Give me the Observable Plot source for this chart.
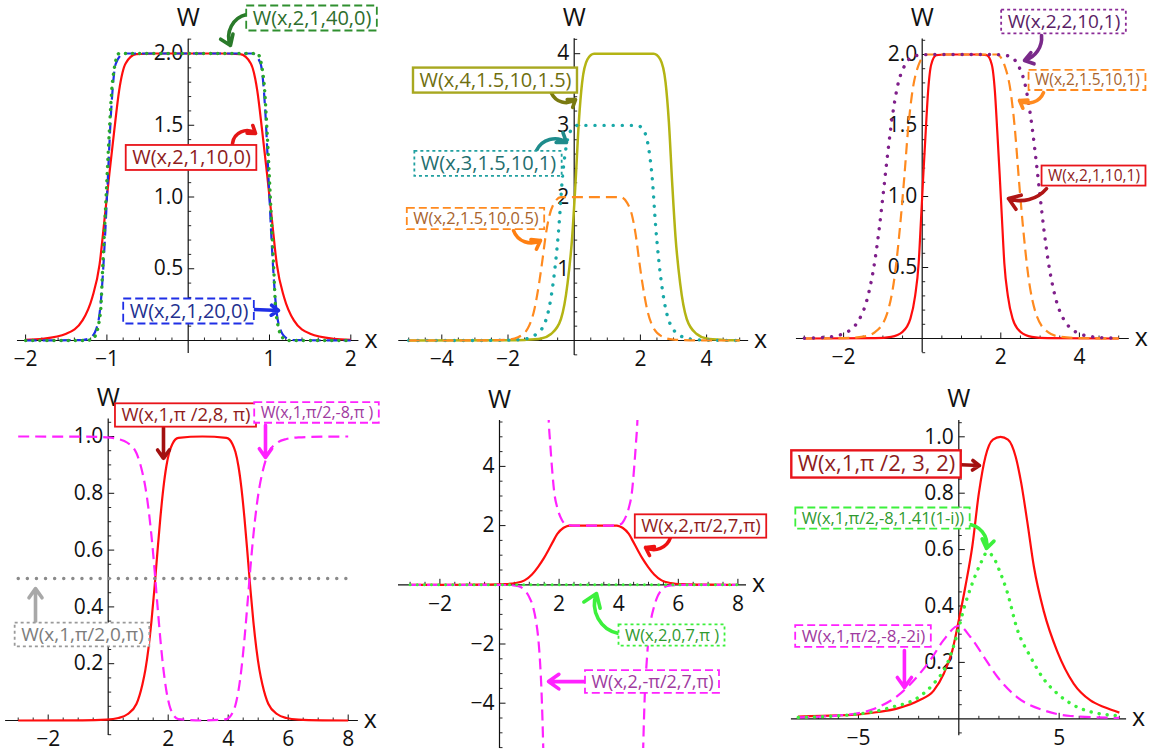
<!DOCTYPE html>
<html><head><meta charset="utf-8">
<script src="https://cdn.jsdelivr.net/npm/d3@7"></script>
<script src="https://cdn.jsdelivr.net/npm/@observablehq/plot@0.6"></script>
<style>
body{margin:0;background:#fff;}
#root{position:relative;width:1150px;height:751px;overflow:hidden;background:#fff;}
#root svg{position:absolute;overflow:visible;background:transparent !important;max-width:none !important;}
</style></head><body><div id="root"></div>
<script>
// ================= DATA =================
// Panel 1
const p1RedX   = [-2, -1.79, -1.5, -1.3, -1.18, -1.09, -1.03, -0.97, -0.91, -0.85, -0.77, -0.64, -0.4, 0, 0.4, 0.64, 0.77, 0.85, 0.91, 0.97, 1.03, 1.09, 1.18, 1.3, 1.5, 1.79, 2];
const p1RedY   = [0.005, 0.012, 0.047, 0.14, 0.30, 0.53, 0.84, 1.16, 1.46, 1.74, 1.93, 1.995, 2, 2, 2, 1.995, 1.93, 1.74, 1.46, 1.16, 0.84, 0.53, 0.30, 0.14, 0.047, 0.012, 0.005];
const p1BlueX  = [-2, -1.3, -1.2, -1.11, -1.07, -1.03, -0.99, -0.95, -0.89, -0.79, -0.6, 0, 0.6, 0.79, 0.89, 0.95, 0.99, 1.03, 1.07, 1.11, 1.2, 1.3, 2];
const p1BlueY  = [0, 0.003, 0.02, 0.12, 0.30, 0.65, 1.11, 1.58, 1.93, 2.0, 2, 2, 2, 2.0, 1.93, 1.58, 1.11, 0.65, 0.30, 0.12, 0.02, 0.003, 0];
const p1GreenX = [-2, -1.25, -1.16, -1.08, -1.05, -1.01, -0.97, -0.93, -0.85, -0.6, 0, 0.6, 0.85, 0.93, 0.97, 1.01, 1.05, 1.08, 1.16, 1.25, 2];
const p1GreenY = [0, 0, 0.02, 0.19, 0.53, 1.0, 1.46, 1.81, 2.0, 2, 2, 2, 2.0, 1.81, 1.46, 1.0, 0.53, 0.19, 0.02, 0, 0];
// Panel 2
const p2OliveX  = [-5, -2, -1.5, -1, -0.7, -0.4, -0.2, -0.06, 0.04, 0.14, 0.24, 0.4, 0.6, 1.5, 2.4, 2.6, 2.76, 2.86, 2.96, 3.06, 3.2, 3.4, 3.7, 4, 4.5, 5];
const p2OliveY  = [0, 0.002, 0.008, 0.028, 0.09, 0.3, 0.8, 1.45, 2.2, 3.05, 3.6, 3.92, 4.0, 4, 4.0, 3.92, 3.6, 3.05, 2.2, 1.45, 0.8, 0.3, 0.09, 0.028, 0.008, 0.002];
const p2TealX   = [-5, -3, -2, -1.5, -1.2, -0.9, -0.7, -0.56, -0.46, -0.36, -0.26, -0.1, 0.1, 1, 1.9, 2.1, 2.26, 2.36, 2.46, 2.56, 2.7, 2.9, 3.2, 3.5, 4, 5];
const p2TealY   = [0, 0, 0.005, 0.02, 0.07, 0.23, 0.6, 1.1, 1.6, 2.25, 2.65, 2.93, 3.0, 3, 3.0, 2.93, 2.65, 2.25, 1.6, 1.1, 0.6, 0.23, 0.07, 0.02, 0.005, 0];
const p2OrangeX = [-5, -3.5, -2.5, -2, -1.7, -1.4, -1.2, -1.06, -0.96, -0.86, -0.76, -0.6, -0.4, 0.5, 1.4, 1.6, 1.76, 1.86, 1.96, 2.06, 2.2, 2.4, 2.7, 3, 3.5, 4.5, 5];
const p2OrangeY = [0, 0, 0.003, 0.013, 0.045, 0.17, 0.44, 0.8, 1.12, 1.47, 1.72, 1.92, 2.0, 2, 2.0, 1.92, 1.72, 1.47, 1.12, 0.8, 0.44, 0.17, 0.045, 0.013, 0.003, 0, 0];
// Panel 3
const p3RedX    = [-3, -1.2, -0.79, -0.5, -0.3, -0.18, -0.09, -0.03, 0.03, 0.09, 0.15, 0.23, 0.36, 0.6, 1.4, 1.64, 1.77, 1.85, 1.91, 1.97, 2.03, 2.09, 2.18, 2.3, 2.5, 2.79, 3.2, 5];
const p3RedY    = [0, 0.003, 0.012, 0.047, 0.14, 0.30, 0.53, 0.84, 1.16, 1.46, 1.74, 1.93, 1.995, 2, 2, 1.995, 1.93, 1.74, 1.46, 1.16, 0.84, 0.53, 0.30, 0.14, 0.047, 0.012, 0.003, 0];
const p3OrangeX = [-3, -2, -1.5, -1.2, -0.9, -0.7, -0.56, -0.46, -0.36, -0.26, -0.1, 0.1, 1, 1.9, 2.1, 2.26, 2.36, 2.46, 2.56, 2.7, 2.9, 3.2, 3.5, 4, 5];
const p3OrangeY = [0, 0.003, 0.013, 0.045, 0.17, 0.44, 0.8, 1.12, 1.47, 1.72, 1.92, 2.0, 2, 2.0, 1.92, 1.72, 1.47, 1.12, 0.8, 0.44, 0.17, 0.045, 0.013, 0.003, 0];
const p3PurpleX = [-3, -2.4, -2, -1.8, -1.6, -1.4, -1.2, -1.1, -1.0, -0.9, -0.8, -0.7, -0.6, -0.5, -0.2, 0.2, 1, 1.8, 2.2, 2.5, 2.6, 2.7, 2.8, 2.9, 3.0, 3.1, 3.2, 3.4, 3.6, 3.8, 4.0, 4.4, 5];
const p3PurpleY = [0.002, 0.01, 0.034, 0.067, 0.135, 0.278, 0.556, 0.76, 1.0, 1.25, 1.48, 1.67, 1.81, 1.89, 1.99, 2.0, 2, 2.0, 1.99, 1.89, 1.81, 1.67, 1.48, 1.25, 1.0, 0.76, 0.556, 0.278, 0.135, 0.067, 0.034, 0.01, 0.002];
// Panel 4
const p4X       = [-3, -0.86, -0.06, 0.34, 0.64, 0.94, 1.14, 1.24, 1.34, 1.44, 1.54, 1.64, 1.74, 1.84, 1.94, 2.04, 2.14, 2.34, 3.14, 3.94, 4.14, 4.24, 4.34, 4.44, 4.54, 4.64, 4.74, 4.84, 4.94, 5.04, 5.14, 5.34, 5.64, 5.94, 6.34, 7.14, 8];
const p4RedY    = [0, 0.0006, 0.003, 0.009, 0.022, 0.058, 0.127, 0.179, 0.252, 0.347, 0.463, 0.592, 0.715, 0.819, 0.896, 0.946, 0.974, 0.995, 1, 0.995, 0.974, 0.946, 0.896, 0.819, 0.715, 0.592, 0.463, 0.347, 0.252, 0.179, 0.127, 0.058, 0.022, 0.009, 0.003, 0.0006, 0];
const p4MagentaY= [1, 0.9994, 0.997, 0.991, 0.978, 0.942, 0.873, 0.821, 0.748, 0.653, 0.537, 0.408, 0.285, 0.181, 0.104, 0.054, 0.026, 0.005, 0, 0.005, 0.026, 0.054, 0.104, 0.181, 0.285, 0.408, 0.537, 0.653, 0.748, 0.821, 0.873, 0.942, 0.978, 0.991, 0.997, 0.9994, 1];
const p4GrayX   = [-3, 8];
const p4GrayY   = [0.5, 0.5];
// Panel 5
const p5RedX    = [-3, -1.36, -0.36, 0.14, 0.54, 0.84, 1.09, 1.29, 1.49, 1.64, 1.79, 1.94, 2.14, 2.24, 2.34, 3.14, 3.94, 4.04, 4.14, 4.34, 4.49, 4.64, 4.79, 4.99, 5.19, 5.44, 5.74, 6.14, 6.64, 7.64, 8];
const p5RedY    = [0, 0.002, 0.007, 0.02, 0.06, 0.15, 0.35, 0.6, 0.9, 1.17, 1.45, 1.72, 1.92, 1.97, 2.0, 2, 2.0, 1.97, 1.92, 1.72, 1.45, 1.17, 0.9, 0.6, 0.35, 0.15, 0.06, 0.02, 0.007, 0.002, 0];
const p5MagLeftX  = [-3, -1, 0, 0.34, 0.64, 0.85, 0.99, 1.14, 1.22, 1.30, 1.36, 1.41, 1.47, 1.52];
const p5MagLeftY  = [0, 0, -0.003, -0.01, -0.05, -0.19, -0.4, -0.8, -1.2, -1.8, -2.6, -3.6, -5.6, -8];
const p5MagMidX   = [1.61, 1.65, 1.70, 1.76, 1.84, 1.94, 2.09, 2.21, 2.54, 3.14, 3.74, 4.07, 4.19, 4.34, 4.44, 4.52, 4.58, 4.63, 4.67];
const p5MagMidY   = [7, 5.6, 4.8, 3.97, 3.1, 2.6, 2.2, 2.05, 2.0, 2, 2.0, 2.05, 2.2, 2.6, 3.1, 3.97, 4.8, 5.6, 7];
const p5MagRightX = [4.77, 4.82, 4.88, 4.94, 5.0, 5.08, 5.17, 5.3, 5.42, 5.64, 5.94, 6.14, 7, 8];
const p5MagRightY = [-8, -5.6, -3.6, -2.6, -1.8, -1.2, -0.8, -0.4, -0.19, -0.04, -0.01, -0.005, 0, 0];
const p5GreenX  = [-3, 8];
const p5GreenY  = [0, 0];
// Panel 6
const p6RedX    = [-8, -6, -5, -4, -3, -2, -1.25, -0.75, -0.33, 0, 0.33, 0.67, 1.0, 1.33, 1.7, 2.08, 2.45, 2.83, 3.1, 3.41, 3.74, 4.24, 4.9, 5.73, 6.56, 7.3, 8];
const p6RedY    = [0.008, 0.012, 0.016, 0.024, 0.038, 0.065, 0.10, 0.16, 0.24, 0.35, 0.47, 0.61, 0.80, 0.93, 0.99, 1.0, 0.99, 0.93, 0.84, 0.70, 0.54, 0.38, 0.24, 0.124, 0.065, 0.04, 0.022];
const p6GreenX  = [-8, -5, -3.4, -2, -1.25, -0.58, -0.08, 0.25, 0.67, 1.08, 1.41, 1.75, 2.0, 2.41, 2.9, 3.57, 4.24, 4.9, 5.73, 6.56, 8];
const p6GreenY  = [0.005, 0.017, 0.04, 0.077, 0.125, 0.195, 0.30, 0.39, 0.48, 0.55, 0.59, 0.57, 0.53, 0.45, 0.32, 0.22, 0.14, 0.09, 0.048, 0.025, 0.011];
const p6MagX    = [-8, -5.9, -4.24, -2.9, -2.07, -1.4, -0.75, 0, 0.58, 1.25, 1.91, 2.9, 4.24, 5.57, 8];
const p6MagY    = [0.005, 0.012, 0.035, 0.09, 0.15, 0.21, 0.28, 0.33, 0.29, 0.22, 0.15, 0.077, 0.03, 0.01, 0.003];

// ticks & tick labels
const p1XTicks = [-2, -1, 1, 2];          const p1XLabels = ["−2", "−1", "1", "2"];
const p1YTicks = [0.5, 1, 1.5, 2];        const p1YLabels = ["0.5", "1.0", "1.5", "2.0"];
const p2XTicks = [-4, -2, 2, 4];          const p2XLabels = ["−4", "−2", "2", "4"];
const p2YTicks = [1, 2, 3, 4];            const p2YLabels = ["1", "2", "3", "4"];
const p3XTicks = [-2, 2, 4];              const p3XLabels = ["−2", "2", "4"];
const p3YTicks = [0.5, 1, 1.5, 2];        const p3YLabels = ["0.5", "1.0", "1.5", "2.0"];
const p4XTicks = [-2, 2, 4, 6, 8];        const p4XLabels = ["−2", "2", "4", "6", "8"];
const p4YTicks = [0.2, 0.4, 0.6, 0.8, 1]; const p4YLabels = ["0.2", "0.4", "0.6", "0.8", "1.0"];
const p5XTicks = [-2, 2, 4, 6, 8];        const p5XLabels = ["−2", "2", "4", "6", "8"];
const p5YTicks = [-4, -2, 2, 4];          const p5YLabels = ["−4", "−2", "2", "4"];
const p6XTicks = [-5, 5];                 const p6XLabels = ["−5", "5"];
const p6YTicks = [0.2, 0.4, 0.6, 0.8, 1]; const p6YLabels = ["0.2", "0.4", "0.6", "0.8", "1.0"];

// callout labels: text, box centre, arrow start -> arrow tip (data units)
const p1Texts = ["W(x,2,1,40,0)", "W(x,2,1,10,0)", "W(x,2,1,20,0)"];
const p1Cx = [1.523, 0.041, 0.01],  p1Cy = [2.244, 1.272, 0.202];
const p1Ax1 = [0.717, 0.545, 0.791], p1Ay1 = [2.272, 1.373, 0.216];
const p1Ax2 = [0.52, 0.828, 1.111],  p1Ay2 = [2.056, 1.443, 0.209];
const p2Texts = ["W(x,4,1.5,10,1.5)", "W(x,3,1.5,10,1)", "W(x,2,1.5,10,0.5)"];
const p2Cx = [-2.378, -2.589, -2.967], p2Cy = [3.625, 2.462, 1.695];
const p2Ax1 = [-0.686, -1.139, -1.834], p2Ay1 = [3.45, 2.65, 1.534];
const p2Ax2 = [0.04, -0.233, -1.018],   p2Ay2 = [3.36, 2.762, 1.395];
const p3Texts = ["W(x,2,2,10,1)", "W(x,2,1.5,10,1)", "W(x,2,1,10,1)"];
const p3Cx = [3.608, 4.206, 4.372], p3Cy = [2.229, 1.817, 1.144];
const p3Ax1 = [3.036, 3.087, 3.163], p3Ay1 = [2.134, 1.732, 1.056];
const p3Ax2 = [2.603, 2.476, 2.196], p3Ay2 = [1.958, 1.676, 0.986];
const p4Texts = ["W(x,1,π /2,8, π)", "W(x,1,π/2,-8,π )", "W(x,1,π/2,0,π)"];
const p4Cx = [2.593, 6.96, -0.857], p4Cy = [1.074, 1.083, 0.301];
const p4Ax1 = [1.843, 5.243, -2.423], p4Ay1 = [1.032, 1.039, 0.345];
const p4Ax2 = [1.843, 5.243, -2.423], p4Ay2 = [0.923, 0.926, 0.465];
const p5Texts = ["W(x,2,π/2,7,π)", "W(x,2,0,7,π )", "W(x,2,-π/2,7,π)"];
const p5Cx = [6.762, 5.789, 5.134], p5Cy = [1.97, -1.713, -3.284];
const p5Ax1 = [5.738, 3.993, 2.919], p5Ay1 = [1.598, -1.645, -3.27];
const p5Ax2 = [4.899, 3.255, 1.644], p5Ay2 = [1.26, -0.294, -3.27];
const p6Texts = ["W(x,1,π /2, 3, 2)", "W(x,1,π/2,-8,1.41(1-i))", "W(x,1,π/2,-8,-2i)"];
const p6Cx = [-4.1, -3.777, -4.748], p6Cy = [0.902, 0.71, 0.292];
const p6Ax1 = [-0.214, 0.384, -2.71], p6Ay1 = [0.902, 0.69, 0.242];
const p6Ax2 = [1.031, 1.38, -2.71],   p6Ay2 = [0.898, 0.604, 0.111];

// ================= STYLES =================
const FONT = '"Open Sans", "DejaVu Sans", sans-serif';
const AXIS = "#111";
const RED = "#ff0d0d", REDTXT = "#8e1c1c";
const MAG = "#ff22ff", MAGTXT = "#a03aa0";
const LIME = "#3cf03c", LIMETXT = "#2f9a2f";
const ORANGE = "#ff8a1f", ORANGETXT = "#a8642d";
const SOLID = {w: 2.2, dash: null, cap: "butt"};
const DASH = {w: 2.2, dash: "11,6", cap: "butt"};
const DOT = {w: 3.4, dash: "0.1,8", cap: "round"};
const BOX_SOLID = null, BOX_DASH = "8,4", BOX_DOT = "3,3";
const TICK_FS = 21, NAME_FS = 25;

function series(xs, ys, z = 0) { return xs.map((x, i) => ({x, y: ys[i], z})); }
function callouts(texts, cx, cy, ax1, ay1, ax2, ay2, styles) {
  return texts.map((t, i) => ({text: t, cx: cx[i], cy: cy[i], ax1: ax1[i], ay1: ay1[i], ax2: ax2[i], ay2: ay2[i], ...styles[i]}));
}
function ticksBetween(d0, d1, step, majors) {
  const out = [];
  for (let n = Math.ceil(d0 / step - 1e-9); n <= Math.floor(d1 / step + 1e-9); n++) {
    const v = +(n * step).toFixed(6);
    if (v !== 0 && !majors.some(m => Math.abs(m - v) < 1e-6)) out.push(v);
  }
  return out;
}
const ctx = document.createElement("canvas").getContext("2d");
function measure(t, fs) { ctx.font = `${fs}px ${FONT}`; return ctx.measureText(t).width; }

const panels = [
  {left: 0, top: 0, width: 383, height: 375, ox: 187.7, oy: 340, kx: 81.3, ky: 143.5, xd: [-2.1, 2.1], yd: [-0.09, 2.1],
   xt: p1XTicks, xl: p1XLabels, yt: p1YTicks, yl: p1YLabels, xminor: 0.2, yminor: 0.1,
   series: [
     {data: series(p1RedX, p1RedY), color: RED, ...SOLID},
     {data: series(p1BlueX, p1BlueY), color: "#1f2fe6", ...DASH},
     {data: series(p1GreenX, p1GreenY), color: "#2aa82a", ...DOT, dash: "0.1,7"}],
   callouts: callouts(p1Texts, p1Cx, p1Cy, p1Ax1, p1Ay1, p1Ax2, p1Ay2, [
     {fs: 20, tc: "#2d6e2d", bc: "#2f8f2f", bd: BOX_DASH, ac: "#2a7a2a", bend: -50},
     {fs: 20, tc: REDTXT, bc: "#e8141a", bd: BOX_SOLID, ac: "#e41515", bend: 60},
     {fs: 20, tc: "#23308f", bc: "#1f2fe6", bd: BOX_DASH, ac: "#1f2fe6", bend: 0}])},
  {left: 383, top: 0, width: 383, height: 375, ox: 190.7, oy: 340, kx: 33.1, ky: 71.7, xd: [-5.3, 5.27], yd: [-0.21, 4.21],
   xt: p2XTicks, xl: p2XLabels, yt: p2YTicks, yl: p2YLabels, xminor: 0.5, yminor: 0.2,
   series: [
     {data: series(p2OliveX, p2OliveY), color: "#b4b414", ...SOLID, w: 2.5},
     {data: series(p2TealX, p2TealY), color: "#18a8a8", ...DOT, dash: "0.1,9"},
     {data: series(p2OrangeX, p2OrangeY), color: ORANGE, ...DASH}],
   callouts: callouts(p2Texts, p2Cx, p2Cy, p2Ax1, p2Ay1, p2Ax2, p2Ay2, [
     {fs: 20, tc: "#6f6f10", bc: "#a8a820", bd: BOX_SOLID, ac: "#7a7a10", bend: -50, bw: 2.4},
     {fs: 20, tc: "#236e6e", bc: "#20a0a0", bd: BOX_DOT, ac: "#1f8c8c", bend: 50},
     {fs: 16.5, tc: ORANGETXT, bc: ORANGE, bd: BOX_DASH, ac: "#ff7f11", bend: -50}])},
  {left: 766, top: 0, width: 384, height: 375, ox: 155.7, oy: 338, kx: 39.3, ky: 142, xd: [-3.2, 5.27], yd: [-0.1, 2.11],
   xt: p3XTicks, xl: p3XLabels, yt: p3YTicks, yl: p3YLabels, xminor: 0.5, yminor: 0.1,
   series: [
     {data: series(p3RedX, p3RedY), color: RED, ...SOLID},
     {data: series(p3OrangeX, p3OrangeY), color: ORANGE, ...DASH},
     {data: series(p3PurpleX, p3PurpleY), color: "#7f1f8a", ...DOT, dash: "0.1,9"}],
   callouts: callouts(p3Texts, p3Cx, p3Cy, p3Ax1, p3Ay1, p3Ax2, p3Ay2, [
     {fs: 19, tc: "#5a1d66", bc: "#8a2a96", bd: BOX_DOT, ac: "#7a2a8a", bend: 40},
     {fs: 15.5, tc: ORANGETXT, bc: ORANGE, bd: BOX_DASH, ac: ORANGE, bend: 50},
     {fs: 15.5, tc: REDTXT, bc: "#e8141a", bd: BOX_SOLID, ac: "#b01515", bend: 35}])},
  {left: 0, top: 375, width: 383, height: 376, ox: 107.7, oy: 345, kx: 30, ky: 284, xd: [-3.42, 8.34], yd: [-0.053, 1.062],
   xt: p4XTicks, xl: p4XLabels, yt: p4YTicks, yl: p4YLabels, xminor: 0.5, yminor: 0.05,
   series: [
     {data: series(p4X, p4RedY), color: RED, ...SOLID},
     {data: series(p4X, p4MagentaY), color: MAG, ...DASH},
     {data: series(p4GrayX, p4GrayY), color: "#8a8a8a", ...DOT, dash: "0.1,9"}],
   callouts: callouts(p4Texts, p4Cx, p4Cy, p4Ax1, p4Ay1, p4Ax2, p4Ay2, [
     {fs: 18.5, tc: REDTXT, bc: "#e8141a", bd: BOX_SOLID, ac: "#a31010", bend: 0},
     {fs: 16, tc: MAGTXT, bc: MAG, bd: BOX_DASH, ac: MAG, bend: 0},
     {fs: 19, tc: "#7d7d7d", bc: "#9a9a9a", bd: BOX_DOT, ac: "#a8a8a8", bend: 0}])},
  {left: 383, top: 375, width: 383, height: 376, ox: 116, oy: 209.3, kx: 29.8, ky: 29.6, xd: [-3.39, 8.29], yd: [-5.53, 5.55],
   xt: p5XTicks, xl: p5XLabels, yt: p5YTicks, yl: p5YLabels, xminor: 0.5, yminor: 0.5,
   series: [
     {data: series(p5RedX, p5RedY), color: RED, ...SOLID},
     {data: [...series(p5MagLeftX, p5MagLeftY, 0), ...series(p5MagMidX, p5MagMidY, 1), ...series(p5MagRightX, p5MagRightY, 2)], color: MAG, ...DASH},
     {data: series(p5GreenX, p5GreenY), color: LIME, ...DOT, w: 3, dash: "0.1,7"}],
   callouts: callouts(p5Texts, p5Cx, p5Cy, p5Ax1, p5Ay1, p5Ax2, p5Ay2, [
     {fs: 18.5, tc: REDTXT, bc: "#e8141a", bd: BOX_SOLID, ac: "#ee1111", bend: 50},
     {fs: 16.5, tc: LIMETXT, bc: LIME, bd: BOX_DOT, ac: LIME, bend: 50},
     {fs: 18, tc: MAGTXT, bc: MAG, bd: BOX_DASH, ac: MAG, bend: 0}])},
  {left: 766, top: 375, width: 384, height: 376, ox: 192.3, oy: 343.3, kx: 20.07, ky: 282, xd: [-8.34, 8.36], yd: [-0.06, 1.058],
   xt: p6XTicks, xl: p6XLabels, yt: p6YTicks, yl: p6YLabels, xminor: 1, yminor: 0.05,
   series: [
     {data: series(p6RedX, p6RedY), color: RED, ...SOLID},
     {data: series(p6MagX, p6MagY), color: MAG, ...DASH},
     {data: series(p6GreenX, p6GreenY), color: LIME, ...DOT, dash: "0.1,8"}],
   callouts: callouts(p6Texts, p6Cx, p6Cy, p6Ax1, p6Ay1, p6Ax2, p6Ay2, [
     {fs: 22, tc: REDTXT, bc: "#e8141a", bd: BOX_SOLID, ac: "#a31010", bend: 0, bw: 2.4},
     {fs: 16.5, tc: LIMETXT, bc: LIME, bd: BOX_DASH, ac: LIME, bend: 50},
     {fs: 17, tc: MAGTXT, bc: MAG, bd: BOX_DASH, ac: MAG, bend: 0}])}
];

const root = document.getElementById("root");
for (const p of panels) {
  const ml = p.ox + p.kx * p.xd[0];
  const mr = p.width - (p.ox + p.kx * p.xd[1]);
  const mt = p.oy - p.ky * p.yd[1];
  const mb = p.height - (p.oy - p.ky * p.yd[0]);
  const tyMaj = 6 / p.ky, tyMin = 3 / p.ky, txMaj = 6 / p.kx, txMin = 3 / p.kx;
  const xMinor = ticksBetween(p.xd[0], p.xd[1], p.xminor, p.xt);
  const yMinor = ticksBetween(p.yd[0], p.yd[1], p.yminor, p.yt);
  const xT = p.xt.map((v, i) => ({v, label: p.xl[i]}));
  const yT = p.yt.map((v, i) => ({v, label: p.yl[i]}));
  const marks = [
    Plot.ruleY([0], {x1: p.xd[0], x2: p.xd[1], stroke: AXIS, strokeWidth: 1.2}),
    Plot.ruleX([0], {y1: p.yd[0], y2: p.yd[1], stroke: AXIS, strokeWidth: 1.2}),
    Plot.link(xMinor, {x1: d => d, x2: d => d, y1: 0, y2: tyMin, stroke: AXIS, strokeWidth: 0.9}),
    Plot.link(p.xt, {x1: d => d, x2: d => d, y1: 0, y2: tyMaj, stroke: AXIS, strokeWidth: 1}),
    Plot.link(yMinor, {y1: d => d, y2: d => d, x1: 0, x2: txMin, stroke: AXIS, strokeWidth: 0.9}),
    Plot.link(p.yt, {y1: d => d, y2: d => d, x1: 0, x2: txMaj, stroke: AXIS, strokeWidth: 1}),
    Plot.text(xT, {x: "v", y: 0, text: "label", dy: 19, fontSize: TICK_FS, fontFamily: FONT, fill: "#111"}),
    Plot.text(yT, {x: 0, y: "v", text: "label", dx: -5, textAnchor: "end", fontSize: TICK_FS, fontFamily: FONT, fill: "#111"}),
    Plot.text(["W"], {x: 0, y: p.yd[1], text: d => d, dy: -21, fontSize: NAME_FS, fontFamily: FONT, fill: "#111"}),
    Plot.text(["x"], {x: p.xd[1], y: 0, text: d => d, dx: 12, dy: -1, fontSize: NAME_FS, fontFamily: FONT, fill: "#111"})
  ];
  for (const s of p.series) {
    marks.push(Plot.line(s.data, {x: "x", y: "y", z: "z", stroke: s.color, strokeWidth: s.w,
      strokeDasharray: s.dash || undefined, strokeLinecap: s.cap, strokeLinejoin: "round", curve: "monotone-x", clip: true}));
  }
  for (const c of p.callouts) {
    const tw = measure(c.text, c.fs);
    const hw = (tw / 2 + 6) / p.kx, hh = (c.fs * 1.1 + 3) / 2 / p.ky;
    if (c.ax1 !== c.ax2 || c.ay1 !== c.ay2)
      marks.push(Plot.arrow([c], {x1: "ax1", y1: "ay1", x2: "ax2", y2: "ay2", bend: c.bend, stroke: c.ac, strokeWidth: 3.6, headLength: 9, headAngle: 70}));
    marks.push(Plot.rect([c], {x1: d => d.cx - hw, x2: d => d.cx + hw, y1: d => d.cy - hh, y2: d => d.cy + hh,
      fill: "white", stroke: c.bc, strokeWidth: c.bw || 1.8, strokeDasharray: c.bd || undefined}));
    marks.push(Plot.text([c], {x: "cx", y: "cy", text: "text", fill: c.tc, fontSize: c.fs, fontFamily: FONT}));
  }
  const svg = Plot.plot({
    width: p.width, height: p.height,
    marginLeft: ml, marginRight: mr, marginTop: mt, marginBottom: mb,
    x: {domain: p.xd, axis: null}, y: {domain: p.yd, axis: null},
    style: {fontFamily: FONT, background: "transparent", overflow: "visible"},
    marks
  });
  svg.style.left = p.left + "px";
  svg.style.top = p.top + "px";
  root.appendChild(svg);
}
</script></body></html>
